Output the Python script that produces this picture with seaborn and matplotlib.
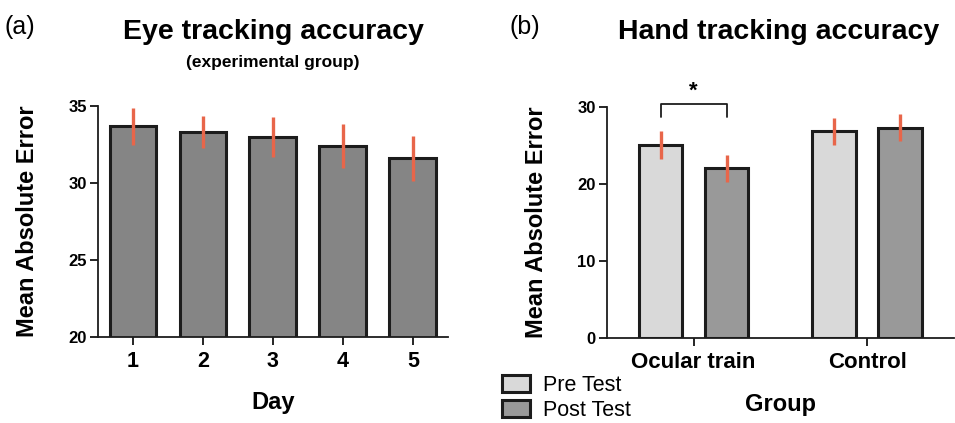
import matplotlib
matplotlib.use("Agg")
import matplotlib.pyplot as plt
import seaborn as sns
import pandas as pd
import numpy as np
from matplotlib.patches import Patch

sns.set_style("ticks")
plt.rcParams['font.family'] = ['Liberation Sans', 'DejaVu Sans']
plt.rcParams.update({"text.color": "black", "axes.labelcolor": "black",
                     "xtick.color": "black", "ytick.color": "black",
                     "axes.edgecolor": "#1c1c1c"})

# ---- data ----
days = ["1", "2", "3", "4", "5"]
eye_mean = [33.7, 33.3, 33.0, 32.4, 31.6]
eye_err = [1.2, 1.05, 1.3, 1.45, 1.45]

groups = ["Ocular train", "Control"]
tests = ["Pre Test", "Post Test"]
hand_pre = [25.0, 26.8]
hand_post = [22.0, 27.3]
hand_pre_err = [1.8, 1.75]
hand_post_err = [1.7, 1.7]

err_color = "#E8664A"
edge = "#1c1c1c"

fig = plt.figure(figsize=(9.55, 4.23), dpi=100)
axL = fig.add_axes([0.1026, 0.2033, 0.3664, 0.5461])
axR = fig.add_axes([0.6353, 0.2002, 0.3637, 0.5476])

# ---- left panel ----
dfL = pd.DataFrame({"Day": days, "MAE": eye_mean})
sns.barplot(data=dfL, x="Day", y="MAE", color="#858585", saturation=1,
            width=0.67, edgecolor=edge, linewidth=2.2, errorbar=None, ax=axL)
for p, e in zip(axL.patches, eye_err):
    cx = p.get_x() + p.get_width() / 2
    axL.errorbar(cx, p.get_height(), yerr=e, fmt="none", ecolor=err_color,
                 elinewidth=2.4, capsize=0, zorder=5)
axL.set_ylim(20, 35)
axL.set_xlim(-0.5, 4.5)
axL.set_yticks([20, 25, 30, 35])
axL.set_xlabel("Day", fontsize=17, fontweight="bold", labelpad=14)
axL.set_ylabel("Mean Absolute Error", fontsize=17, fontweight="bold", labelpad=21)
axL.tick_params(axis="y", labelsize=12, width=1.2, length=6, pad=2)
axL.tick_params(axis="x", labelsize=15.5, width=1.2, length=6, pad=4)
for lab in axL.get_xticklabels() + axL.get_yticklabels():
    lab.set_fontweight("bold")
sns.despine(ax=axL)
for s in ["left", "bottom"]:
    axL.spines[s].set_linewidth(1.3)

fig.text(0.005, 0.935, "(a)", fontsize=18, va="center", ha="left")
fig.text(0.286, 0.925, "Eye tracking accuracy", fontsize=20.5, fontweight="bold",
         ha="center", va="center")
fig.text(0.286, 0.853, "(experimental group)", fontsize=12.5, fontweight="bold",
         ha="center", va="center")

# ---- right panel ----
dfR = pd.DataFrame({
    "Group": groups * 2,
    "Test": [tests[0]] * 2 + [tests[1]] * 2,
    "MAE": hand_pre + hand_post,
})
sns.barplot(data=dfR, x="Group", y="MAE", hue="Test", order=groups, hue_order=tests,
            palette=["#D9D9D9", "#999999"], saturation=1, width=0.76, gap=0.34,
            edgecolor=edge, linewidth=2.2, errorbar=None, legend=False, ax=axR)
errs = hand_pre_err + hand_post_err
bars = [p for p in axR.patches][:4]
for p, e in zip(bars, errs):
    cx = p.get_x() + p.get_width() / 2
    axR.errorbar(cx, p.get_height(), yerr=e, fmt="none", ecolor=err_color,
                 elinewidth=2.4, capsize=0, zorder=5)
axR.set_ylim(0, 30)
axR.set_xlim(-0.5, 1.5)
axR.set_yticks([0, 10, 20, 30])
axR.set_xlabel("Group", fontsize=17, fontweight="bold", labelpad=14)
axR.set_ylabel("Mean Absolute Error", fontsize=17, fontweight="bold", labelpad=21)
axR.tick_params(axis="y", labelsize=12, width=1.2, length=6, pad=2)
axR.tick_params(axis="x", labelsize=16, width=1.2, length=6, pad=4)
for lab in axR.get_xticklabels() + axR.get_yticklabels():
    lab.set_fontweight("bold")
sns.despine(ax=axR)
for s in ["left", "bottom"]:
    axR.spines[s].set_linewidth(1.3)

# significance bracket
p0, p1 = bars[0], bars[2]
x0 = p0.get_x() + p0.get_width() / 2
x1 = p1.get_x() + p1.get_width() / 2
axR.plot([x0, x0, x1, x1], [28.6, 30.4, 30.4, 28.6], color="#1c1c1c", lw=1.3,
         clip_on=False)
axR.text((x0 + x1) / 2, 30.6, "*", ha="center", va="bottom", fontsize=16,
         fontweight="bold")

fig.text(0.534, 0.935, "(b)", fontsize=18, va="center", ha="left")
fig.text(0.815, 0.925, "Hand tracking accuracy", fontsize=20.5, fontweight="bold",
         ha="center", va="center")

handles = [Patch(facecolor="#D9D9D9", edgecolor=edge, linewidth=2.2, label=tests[0]),
           Patch(facecolor="#999999", edgecolor=edge, linewidth=2.2, label=tests[1])]
fig.legend(handles=handles, loc="lower left", bbox_to_anchor=(0.51, -0.03),
           frameon=False, fontsize=15.5, handlelength=1.3, handleheight=0.85,
           labelspacing=0.15, handletextpad=0.6, borderpad=0.2)

fig.savefig("out.png", dpi=100)
